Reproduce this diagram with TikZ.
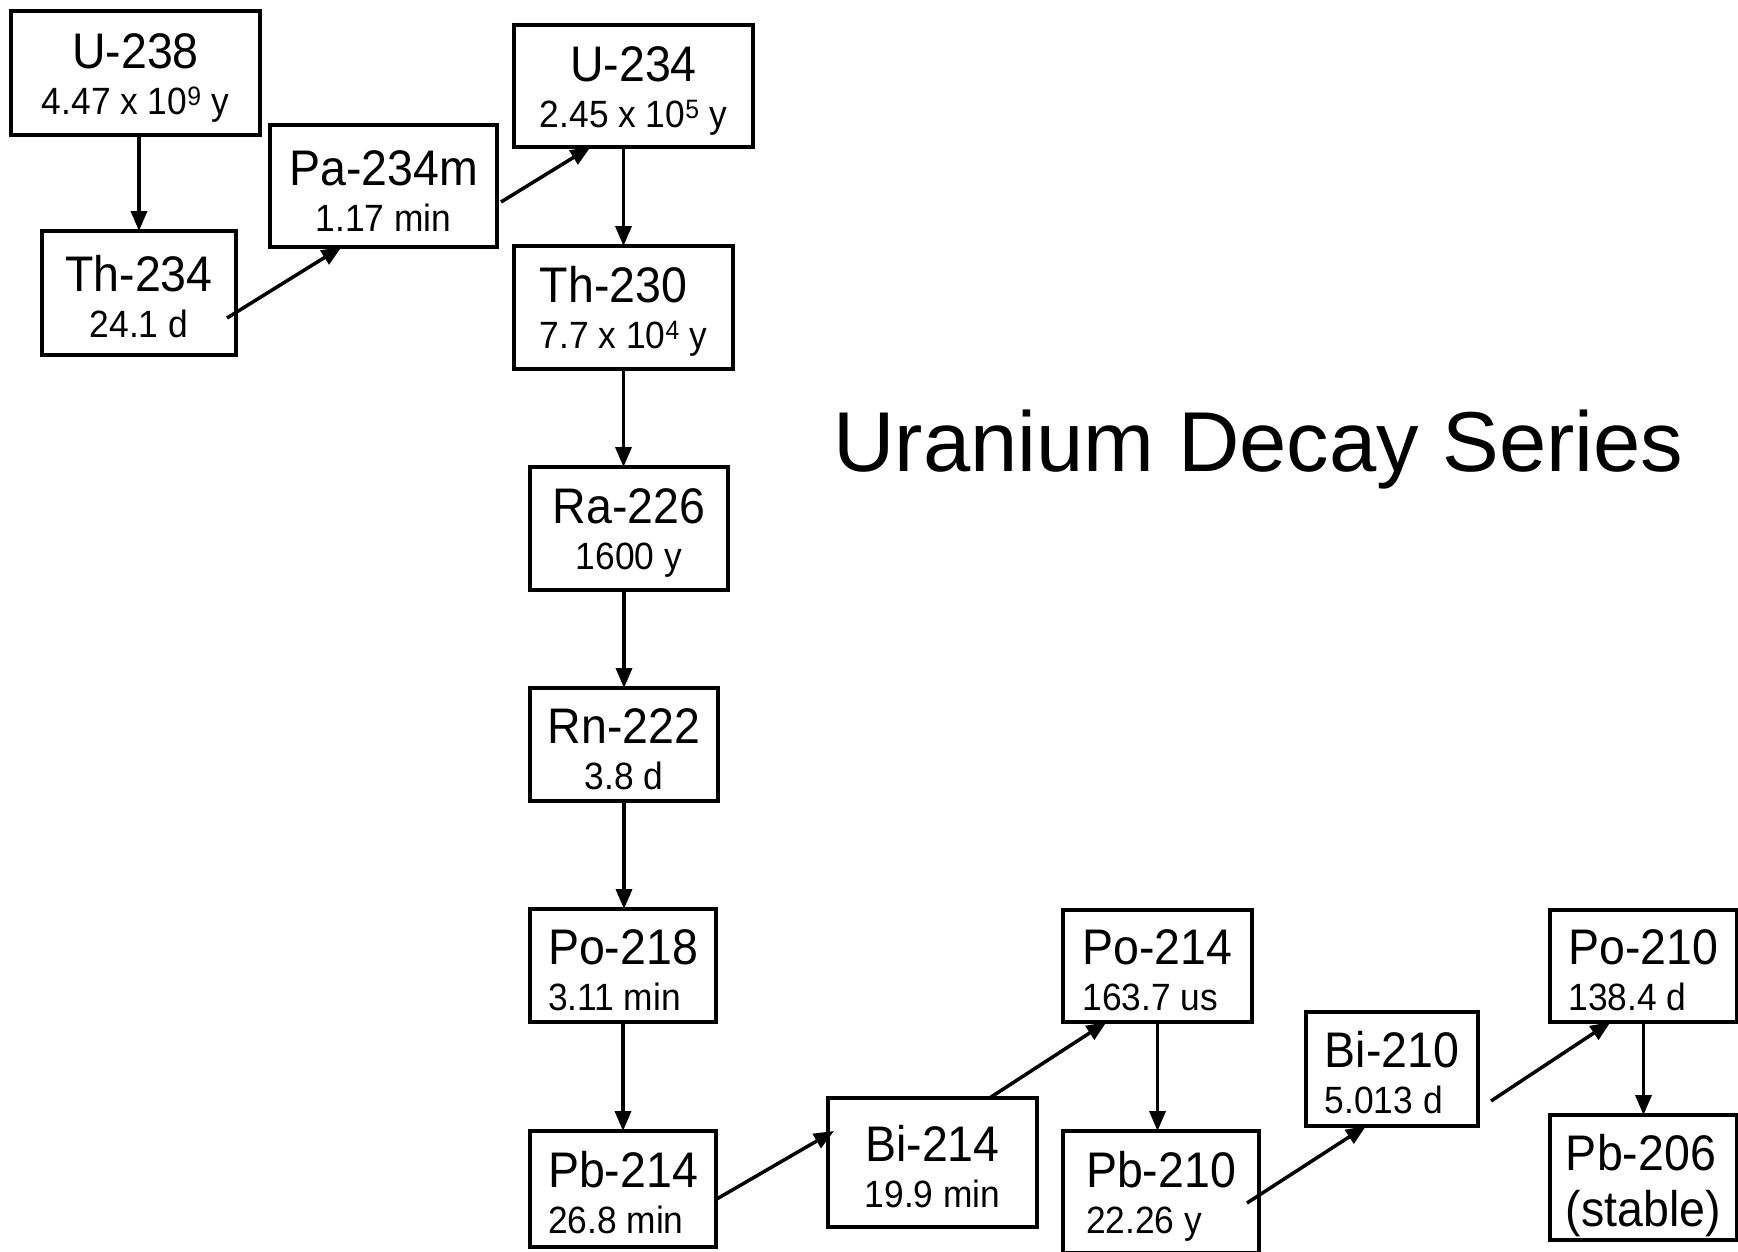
\documentclass[tikz,border=0pt]{standalone}
\usepackage{fontspec}
\setmainfont{Liberation Sans}
\newfontfamily\isofont[FakeStretch=0.93]{Liberation Sans}
\usetikzlibrary{calc,arrows.meta}
\newcommand{\nuc}[2]{{\fontsize{50}{60}\selectfont\rule{0pt}{44pt}#1}\\#2}

\begin{document}
\begin{tikzpicture}[x=1pt,y=-1pt,
  iso/.style={draw,line width=4.5pt,inner sep=0pt,outer sep=0pt,align=center,font=\isofont\fontsize{38}{46}\selectfont},
  decay/.style={line width=3.5pt,-{Triangle[length=20pt,width=16pt]}}]
\useasboundingbox (0,0) rectangle (1738,1251);
% top of the chain
\node[iso,minimum width=249pt,minimum height=124pt] (U238) at (135.5,73) {\nuc{U-238}{4.47 x 10\textsuperscript{9} y}};
\node[iso,minimum width=194pt,minimum height=124pt] (Th234) at (139,293) {\nuc{Th-234}{24.1 d}};
\node[iso,minimum width=227pt,minimum height=122pt] (Pa234m) at (383.5,186) {\nuc{Pa-234m}{1.17 min}};
\node[iso,minimum width=239pt,minimum height=122pt] (U234) at (633.5,86) {\nuc{U-234}{2.45 x 10\textsuperscript{5} y}};
\node[iso,align=left,minimum width=219pt,minimum height=123pt] (Th230) at (623.5,307.5) {\nuc{Th-230}{7.7 x 10\textsuperscript{4} y}};
% middle column
\node[iso,minimum width=198pt,minimum height=123pt] (Ra226) at (629,528.5) {\nuc{Ra-226}{1600 y}};
\node[iso,minimum width=188pt,minimum height=113pt] (Rn222) at (624,744.5) {\nuc{Rn-222}{3.8 d}};
\node[iso,align=left,minimum width=186pt,minimum height=113pt] (Po218) at (623,965.5) {\nuc{Po-218}{3.11 min}};
\node[iso,align=left,minimum width=186pt,minimum height=116pt] (Pb214) at (623,1189) {\nuc{Pb-214}{26.8 min}};
% bottom row
\node[iso,minimum width=209pt,minimum height=129pt] (Bi214) at (932.5,1162.5) {\nuc{Bi-214}{19.9 min}};
\node[iso,align=left,minimum width=189pt,minimum height=112pt] (Po214) at (1157.5,966) {\nuc{Po-214}{163.7 us}};
\node[iso,align=left,minimum width=196pt,minimum height=122pt] (Pb210) at (1161,1192) {\nuc{Pb-210}{22.26 y}};
\node[iso,align=left,minimum width=172pt,minimum height=114pt] (Bi210) at (1392,1069) {\nuc{Bi-210}{5.013 d}};
\node[iso,align=left,minimum width=187pt,minimum height=112pt] (Po210) at (1643.5,966) {\nuc{Po-210}{138.4 d}};
\node[iso,align=left,font=\isofont\fontsize{50}{56}\selectfont,minimum width=187pt,minimum height=125pt] (Pb206) at (1643.5,1177.5) {\rule{0pt}{52pt}Pb-206\\(stable)};
\node[font=\fontsize{85}{100}\selectfont,anchor=base] (title) at (1258.5,471) {Uranium Decay Series};
% decays
\draw[decay] (U238.south -| Th234.north) -- (Th234.north);
\draw[decay] ($(Th234.east)+(-9,25)$) -- ($(Pa234m.south)+(-42,0)$);
\draw[decay] ($(Pa234m.east)+(4,16)$) -- ($(U234.south)+(-43,0)$);
\draw[decay] (U234.south -| Th230.north) -- (Th230.north);
\draw[decay] (Th230.south) -- (Th230.south |- Ra226.north);
\draw[decay] (Ra226.south -| Rn222.north) -- (Rn222.north);
\draw[decay] (Rn222.south) -- (Rn222.south |- Po218.north);
\draw[decay] (Po218.south) -- (Po218.south |- Pb214.north);
\draw[decay] ($(Pb214.east)+(-1,11)$) -- ($(Bi214.north west)+(6,33)$);
\draw[decay] ($(Bi214.north)+(57,0)$) -- ($(Po214.south)+(-51,0)$);
\draw[decay] (Po214.south) -- (Po214.south |- Pb210.north);
\draw[decay] ($(Pb210.east)+(-12,11)$) -- ($(Bi210.south)+(-26,0)$);
\draw[decay] ($(Bi210.east)+(13,32)$) -- ($(Po210.south)+(-33,0)$);
\draw[decay] (Po210.south) -- (Po210.south |- Pb206.north);
\end{tikzpicture}
\end{document}
